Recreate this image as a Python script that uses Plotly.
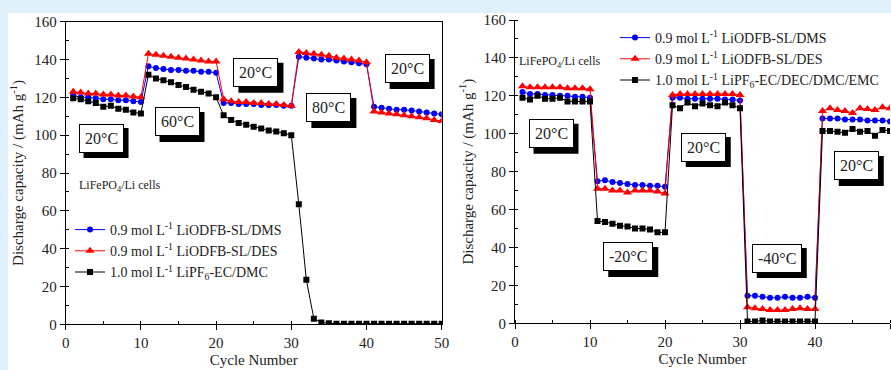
import plotly.graph_objects as go

cycles = list(range(1, 51))

# Left panel (temperature 20/60/20/80/20 C)
left_dms = [121, 120, 120, 119.5, 119, 119, 118.5, 118.5, 118, 117.5,
            136.5, 135.5, 135, 134.5, 134.5, 134, 134, 133.5, 133.5, 133,
            117, 117, 116.5, 116.5, 116.5, 116, 116, 116, 115.5, 115.5,
            141.5, 141, 140.5, 140, 140, 139.5, 139, 138.5, 138, 137.5,
            115, 114.5, 114, 113.5, 113.5, 113, 112.5, 112, 111.5, 111]
left_des = [123, 122.5, 122, 122, 121.5, 121.5, 121, 121, 120.5, 120,
            143, 142.5, 142, 141.5, 141, 140.5, 140, 139.5, 139, 139,
            119, 118, 117.5, 117.5, 117, 117, 116.5, 116.5, 116, 115.5,
            144, 143.5, 143, 142.5, 142, 141, 140.5, 140, 139.5, 138.5,
            112.5, 112, 111.5, 111, 110.5, 110, 109.5, 109, 108, 107.5]
left_dmc = [119.5, 119, 118, 117, 115, 115.5, 114, 113.5, 112, 111.5,
            132, 130, 129, 128, 126.5, 125.5, 124, 123, 122, 120,
            110.5, 108, 106.5, 105.5, 104.5, 103.5, 102.5, 102, 101, 100,
            63.5, 23.5, 3, 1, 0.5, 0.3, 0.3, 0.3, 0.3, 0.3,
            0.3, 0.3, 0.3, 0.3, 0.3, 0.3, 0.3, 0.3, 0.3, 0.3]

# Right panel (temperature 20/-20/20/-40/20 C)
right_dms = [122, 121, 121, 120.5, 120.5, 120, 120, 119.5, 119.5, 119,
             75, 75.5, 74.5, 74, 73.5, 73, 73, 72.5, 72.5, 72,
             119, 119, 118.5, 118.5, 118.5, 118.5, 118.5, 118, 118, 117.5,
             14.5, 14.5, 14, 13.5, 13.5, 14, 13.5, 13.5, 14, 13.5,
             108, 108, 108, 107.5, 107.5, 107.5, 107, 107, 107, 106.5]
right_des = [125, 124.5, 124.5, 124.5, 124.5, 124.5, 124, 124, 124, 123.5,
             71, 71, 70, 70, 69, 70, 70, 70, 69.5, 68.5,
             120.5, 121, 121, 121, 121, 121, 121, 121, 121, 120.5,
             8.5, 8, 7.5, 7, 7, 7, 7.5, 8, 7.5, 7.5,
             112, 113.5, 112.5, 112, 111, 113.5, 113, 112.5, 114, 113.5]
right_emc = [119, 118, 120, 118.5, 118.5, 119, 117, 117, 117, 117,
             54, 53.5, 52.5, 51.5, 51, 50, 50, 49.5, 48, 48,
             115, 113.5, 116.5, 114.5, 116, 115, 114.5, 116.5, 115, 113.5,
             1, 1, 1.5, 1, 1, 1, 1, 1, 1, 1,
             101.5, 101.5, 101, 100.5, 102.5, 101, 101.5, 99, 102, 101.5]

left_names = ["0.9 mol L<sup>-1</sup> LiODFB-SL/DMS",
              "0.9 mol L<sup>-1</sup> LiODFB-SL/DES",
              "1.0 mol L<sup>-1</sup> LiPF<sub>6</sub>-EC/DMC"]
right_names = ["0.9 mol L<sup>-1</sup> LiODFB-SL/DMS",
               "0.9 mol L<sup>-1</sup> LiODFB-SL/DES",
               "1.0 mol L<sup>-1</sup> LiPF<sub>6</sub>-EC/DEC/DMC/EMC"]

left_labels = [("20°C", 4.7, 98.5), ("60°C", 14.8, 107), ("20°C", 25.3, 133),
               ("80°C", 35, 114.4), ("20°C", 45.4, 135)]
right_labels = [("20°C", 4.8, 100), ("-20°C", 15.1, 35), ("20°C", 25.1, 93),
                ("-40°C", 34.9, 34.4), ("20°C", 45.5, 83)]

x_ticks = [0, 10, 20, 30, 40, 50]
y_ticks = [0, 20, 40, 60, 80, 100, 120, 140, 160]

SERIF = "Liberation Serif, Times New Roman, serif"

colors = ["#0000ff", "#ff0000", "#000000"]
symbols = ["circle", "triangle-up", "square"]
msizes = [6, 8, 6]

fig = go.Figure()

for vals, name, c, s, ms in zip([left_dms, left_des, left_dmc], left_names, colors, symbols, msizes):
    fig.add_trace(go.Scatter(x=cycles, y=vals, name=name, mode="lines+markers",
                             line=dict(color=c, width=1), marker=dict(color=c, symbol=s, size=ms),
                             xaxis="x", yaxis="y", legend="legend"))
for vals, name, c, s, ms in zip([right_dms, right_des, right_emc], right_names, colors, symbols, msizes):
    fig.add_trace(go.Scatter(x=cycles, y=vals, name=name, mode="lines+markers",
                             line=dict(color=c, width=1), marker=dict(color=c, symbol=s, size=ms),
                             xaxis="x2", yaxis="y2", legend="legend2"))

W, H = 891, 370

def px_x(p):
    return p / W

def px_y(p):
    return (H - p) / H

axis_common = dict(showline=True, linecolor="black", linewidth=1, showgrid=False, zeroline=False,
                   ticks="outside", ticklen=5, tickcolor="black", automargin=False,
                   tickfont=dict(family=SERIF, size=15, color="#222"),
                   minor=dict(ticks="inside", ticklen=3, tickcolor="black"))

xtitle = dict(text="Cycle Number", font=dict(family=SERIF, size=15, color="#222"), standoff=4)
ytitle = dict(text="Discharge capacity / (mAh g<sup>-1</sup>)",
              font=dict(family=SERIF, size=15, color="#222"), standoff=6)

fig.update_layout(
    width=W, height=H, margin=dict(l=0, r=0, t=0, b=0, autoexpand=False),
    paper_bgcolor="white", plot_bgcolor="white",
    xaxis=dict(domain=[px_x(65.7), px_x(441.7)], range=[0, 50], tickvals=x_ticks, mirror=True,
               anchor="y", minor_dtick=5, title=xtitle, **axis_common),
    yaxis=dict(domain=[px_y(324.3), px_y(21.7)], range=[0, 160], tickvals=y_ticks, mirror=True,
               anchor="x", minor_dtick=10, title=ytitle, **axis_common),
    xaxis2=dict(domain=[px_x(515), px_x(890)], range=[0, 50], tickvals=x_ticks,
                anchor="y2", minor_dtick=5, title=xtitle, **axis_common),
    yaxis2=dict(domain=[px_y(323.3), px_y(20)], range=[0, 160], tickvals=y_ticks,
                anchor="x2", minor_dtick=10, title=ytitle, **axis_common),
    legend=dict(x=px_x(70), y=px_y(214), xanchor="left", yanchor="top", bgcolor="rgba(0,0,0,0)",
                font=dict(family=SERIF, size=14, color="#222"), tracegroupgap=0),
    legend2=dict(x=px_x(615), y=px_y(22), xanchor="left", yanchor="top", bgcolor="rgba(0,0,0,0)",
                 font=dict(family=SERIF, size=14, color="#222"), tracegroupgap=0),
    showlegend=True,
)

# light blue page edges
fig.add_shape(type="rect", xref="paper", yref="paper", x0=0, x1=1, y0=px_y(13), y1=1,
              fillcolor="#dff1fa", line_width=0, layer="below")
fig.add_shape(type="rect", xref="paper", yref="paper", x0=0, x1=px_x(8), y0=0, y1=1,
              fillcolor="#dff1fa", line_width=0, layer="below")

annotations = []
SH = 5  # shadow offset in px

def add_box(text, x, y, xr, yr):
    # drop shadow drawn as a pixel-sized rectangle anchored at the label position
    w = 45 if len(text) <= 4 else 50
    h = 30
    fig.add_shape(type="rect", xref=xr, yref=yr, xsizemode="pixel", ysizemode="pixel",
                  xanchor=x, yanchor=y, x0=-w / 2 + SH, x1=w / 2 + SH, y0=-h / 2 - SH, y1=h / 2 - SH,
                  fillcolor="black", line_width=0, layer="above")
    annotations.append(dict(text=text, x=x, y=y, xref=xr, yref=yr, showarrow=False,
                            borderpad=5, borderwidth=1, bgcolor="white", bordercolor="black",
                            font=dict(family=SERIF, size=16, color="#222")))

for t, x, y in left_labels:
    add_box(t, x, y, "x", "y")
for t, x, y in right_labels:
    add_box(t, x, y, "x2", "y2")

annotations.append(dict(text="LiFePO<sub>4</sub>/Li cells", x=px_x(77), y=px_y(186), xref="paper", yref="paper",
                        xanchor="left", yanchor="middle", showarrow=False,
                        font=dict(family=SERIF, size=12, color="#222")))
annotations.append(dict(text="LiFePO<sub>4</sub>/Li cells", x=px_x(517), y=px_y(62), xref="paper", yref="paper",
                        xanchor="left", yanchor="middle", showarrow=False,
                        font=dict(family=SERIF, size=12, color="#222")))

fig.update_layout(annotations=annotations)

fig.write_html("out.html",
               config={"displayModeBar": False},
               post_script="document.body.style.margin='0';document.body.style.padding='0';"
                           "document.body.style.background='#dff1fa';")
